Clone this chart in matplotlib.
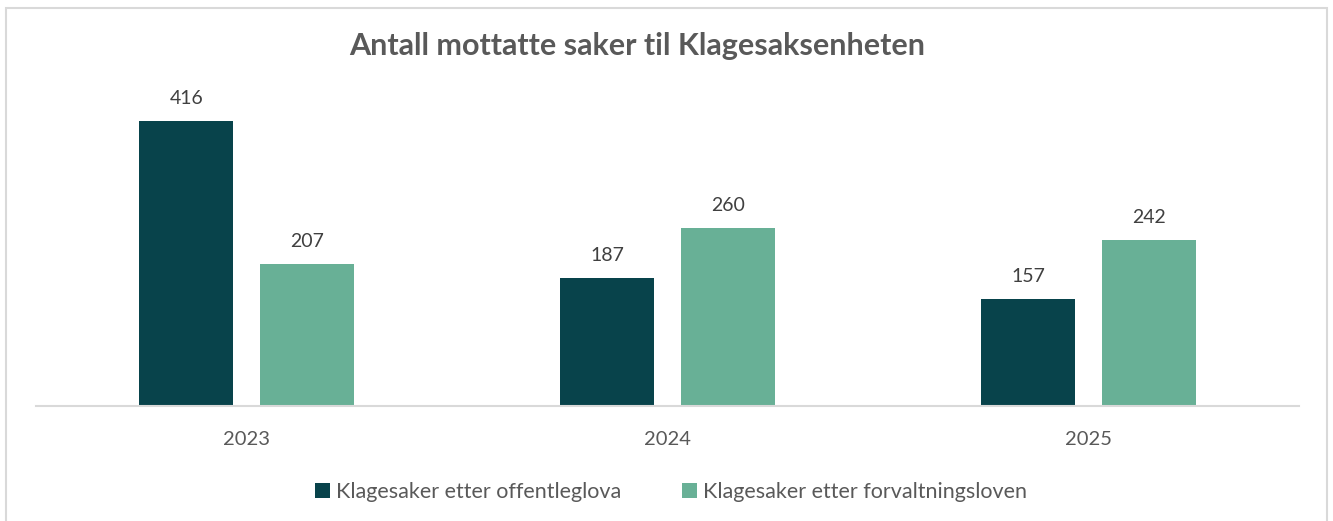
import matplotlib.pyplot as plt
import numpy as np
from matplotlib.patches import Rectangle

# Chart data
years = ['2023', '2024', '2025']
offentleglova = [416, 187, 157]
forvaltningsloven = [207, 260, 242]
series_names = ['Klagesaker etter offentleglova', 'Klagesaker etter forvaltningsloven']

dark = '#08434B'
light = '#68B096'
text_col = '#595959'

plt.rcParams['font.family'] = ['Lato', 'DejaVu Sans']

fig = plt.figure(figsize=(13.33, 5.21), dpi=100)
W, H = 1333, 521

# light grey frame like the exported chart area
fig.patches.append(Rectangle((6 / W, -0.05), 1321 / W, 1.05 - 8 / H,
                             transform=fig.transFigure, fill=False,
                             edgecolor='#D9D9D9', linewidth=1.5))

ax = fig.add_axes([36 / W, (H - 406) / H, 1263 / W, 308 / H])

x = np.arange(len(years))
bw = 0.224
off = 0.143
b1 = ax.bar(x - off, offentleglova, bw, color=dark, label=series_names[0])
b2 = ax.bar(x + off, forvaltningsloven, bw, color=light, label=series_names[1])

for bars in (b1, b2):
    for rect in bars:
        ax.annotate(f'{int(rect.get_height())}',
                    (rect.get_x() + rect.get_width() / 2, rect.get_height()),
                    xytext=(0, 10), textcoords='offset points',
                    ha='center', va='bottom', fontsize=14, color='#404040')

ax.set_xlim(-0.5, 2.5)
ax.set_ylim(0, 450)
ax.set_xticks(x)
ax.set_xticklabels(years, fontsize=14.5, color=text_col)
ax.tick_params(axis='x', length=0, pad=18)
ax.set_yticks([])
for s in ['top', 'right', 'left']:
    ax.spines[s].set_visible(False)
ax.spines['bottom'].set_color('#D9D9D9')
ax.spines['bottom'].set_linewidth(1.5)

fig.text(637 / W, 1 - 46 / H, 'Antall mottatte saker til Klagesaksenheten',
         ha='center', va='center', fontsize=22, fontweight='bold', color=text_col)

fig.legend(handles=[b1, b2], loc='center', bbox_to_anchor=(671 / W, 1 - 492 / H),
           ncol=2, frameon=False, fontsize=15.5, labelcolor=text_col,
           handlelength=0.7, handleheight=0.7, handletextpad=0.3, columnspacing=2.8)

fig.savefig('out.png', dpi=100)
